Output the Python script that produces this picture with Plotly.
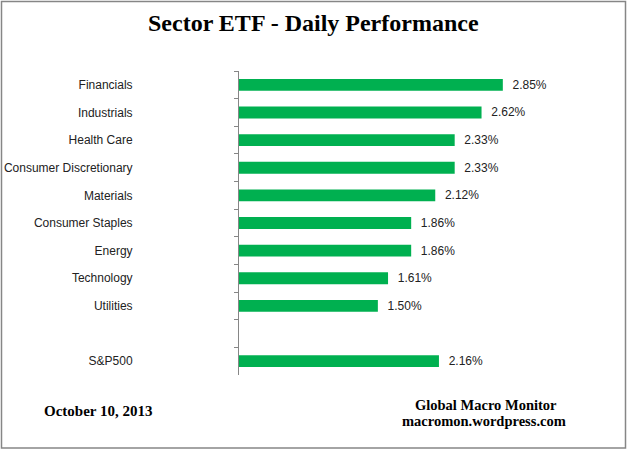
import plotly.graph_objects as go

categories = ["Financials", "Industrials", "Health Care", "Consumer Discretionary",
              "Materials", "Consumer Staples", "Energy", "Technology", "Utilities",
              " ", "S&P500"]
values = [2.85, 2.62, 2.33, 2.33, 2.12, 1.86, 1.86, 1.61, 1.50, None, 2.16]
labels = ["" if v is None else "\u00a0\u00a0%.2f%%" % v for v in values]

title_text = "Sector ETF - Daily Performance"
date_text = "October 10, 2013"
source_line1 = "Global Macro Monitor"
source_line2 = "macromon.wordpress.com"

W, H = 628, 452
L, R, T, B = 239, 65, 71, 77
pw, ph = W - L - R, H - T - B

def px_to_paper_x(px):
    return (px - L) / pw

def px_to_paper_y(py):
    return (H - B - py) / ph

def note(text, x, y, size, anchor="center"):
    return dict(text="<b>" + text + "</b>", x=px_to_paper_x(x), y=px_to_paper_y(y),
                xref="paper", yref="paper", showarrow=False, xanchor=anchor,
                yanchor="middle", font=dict(family="Liberation Serif", size=size, color="black"))

fig = go.Figure(go.Bar(
    x=values, y=categories, orientation="h",
    marker=dict(color="#00B050", line=dict(width=0)),
    width=0.43,
    text=labels, textposition="outside", cliponaxis=False, constraintext="none",
    textfont=dict(family="Liberation Sans", size=12, color="#222222"),
    hoverinfo="skip",
))

fig.update_layout(
    width=W, height=H,
    margin=dict(l=L, r=R, t=T, b=B),
    paper_bgcolor="white", plot_bgcolor="white",
    showlegend=False,
    xaxis=dict(range=[0, 3.5], visible=False, fixedrange=True, automargin=False),
    yaxis=dict(
        type="category", categoryorder="array", categoryarray=categories,
        autorange="reversed", automargin=False, fixedrange=True,
        showline=True, linecolor="#868686", linewidth=1,
        ticks="outside", ticklen=4, tickcolor="#868686", tickson="boundaries",
        ticklabelstandoff=103,
        tickfont=dict(family="Liberation Sans", size=12, color="#222222"),
        showgrid=False, zeroline=False,
    ),
    annotations=[
        note(title_text, 313, 23, 24),
        note(date_text, 42, 411, 15, anchor="left"),
        note(source_line1, 486, 405, 14.5),
        note(source_line2, 484, 421, 14.5),
    ],
    shapes=[
        dict(type="rect", xref="paper", yref="paper",
             x0=px_to_paper_x(1.5), x1=px_to_paper_x(625.5),
             y0=px_to_paper_y(448), y1=px_to_paper_y(1.5),
             line=dict(color="#868686", width=1.5), fillcolor="rgba(0,0,0,0)", layer="below"),
    ],
)

fig.write_html("out.html", config={"displayModeBar": False},
               post_script="document.body.style.margin='0';document.body.style.overflow='hidden';")
